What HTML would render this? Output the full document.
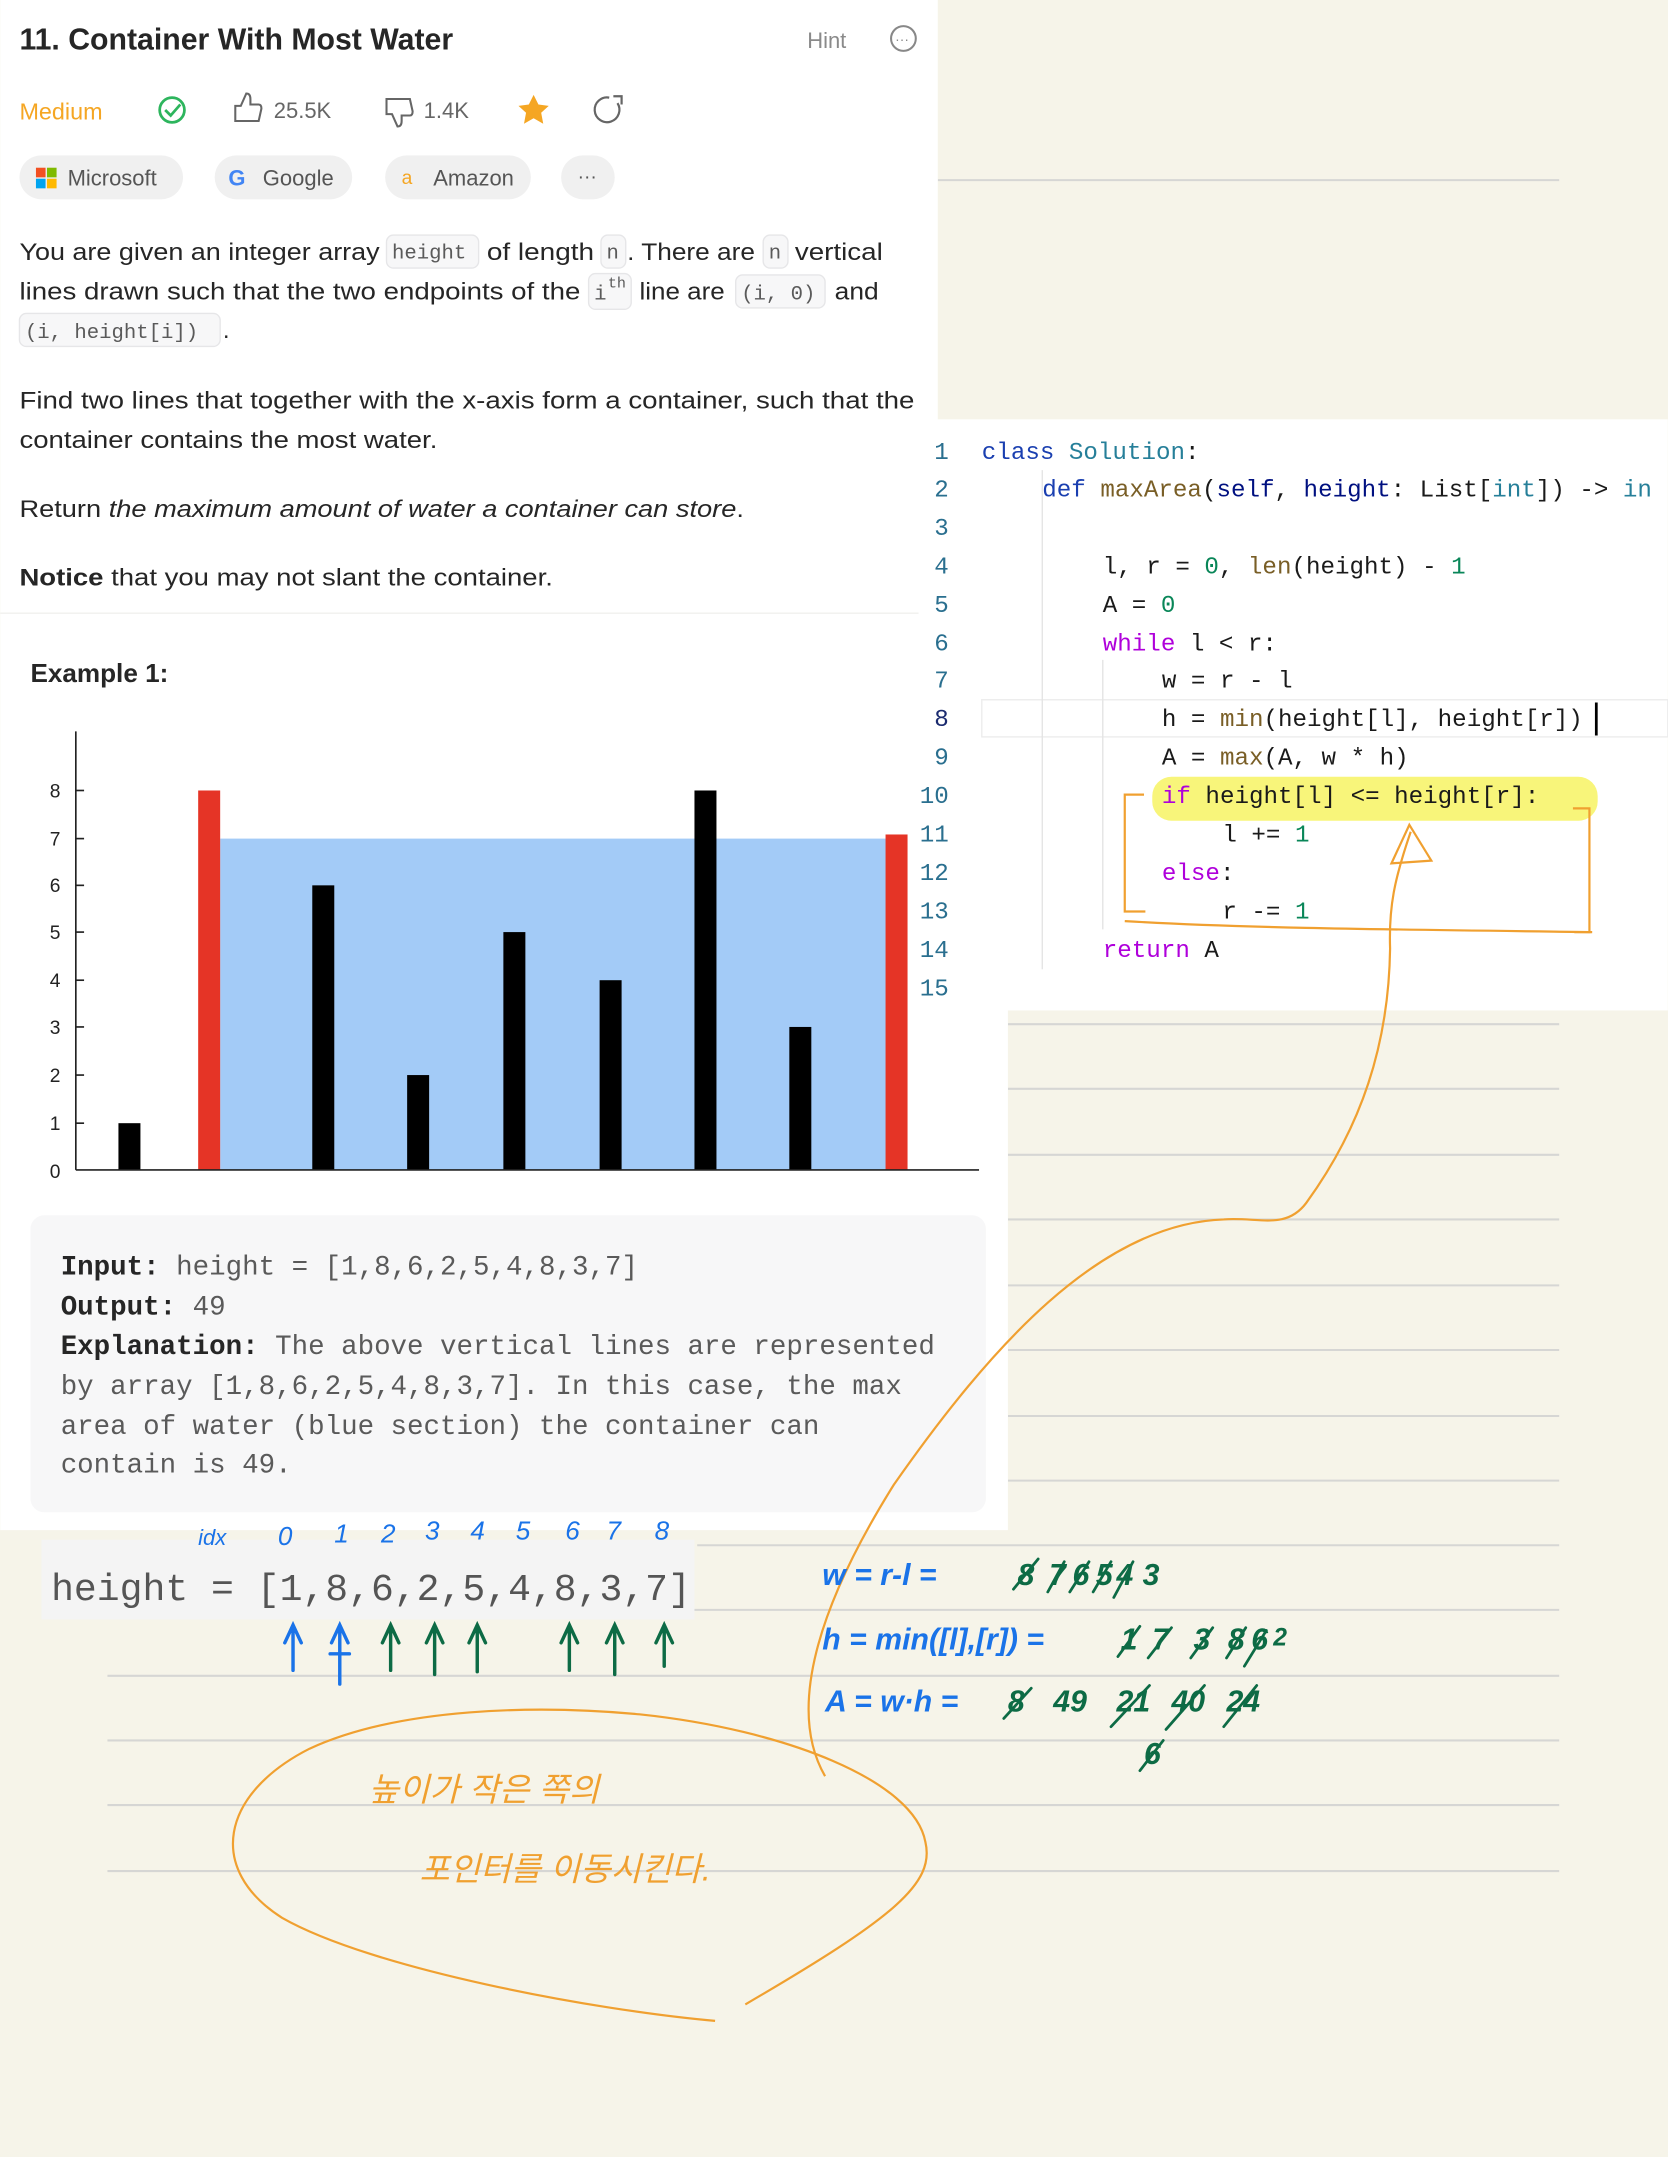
<!DOCTYPE html>
<html><head><meta charset="utf-8"><style>
html,body{margin:0;padding:0;background:#f6f4e9;}
svg{display:block}
.s{font-family:"Liberation Sans",sans-serif}
.m{font-family:"Liberation Mono","DejaVu Sans Mono",monospace}
.hw{font-family:"Liberation Sans","Noto Sans CJK KR",sans-serif;font-style:italic}
</style></head><body>
<svg width="1668" height="2157" viewBox="0 0 1213 1569" xmlns="http://www.w3.org/2000/svg">
<rect width="1213" height="1569" fill="#f6f4e9"/>
<g stroke="#d6d6d4" stroke-width="1.5">
<line x1="682" y1="131" x2="1134" y2="131"/>
<line x1="733" y1="745" x2="1134" y2="745"/>
<line x1="733" y1="792" x2="1134" y2="792"/>
<line x1="733" y1="840" x2="1134" y2="840"/>
<line x1="733" y1="887" x2="1134" y2="887"/>
<line x1="733" y1="935" x2="1134" y2="935"/>
<line x1="733" y1="982" x2="1134" y2="982"/>
<line x1="733" y1="1030" x2="1134" y2="1030"/>
<line x1="733" y1="1077" x2="1134" y2="1077"/>
<line x1="507" y1="1124" x2="1134" y2="1124"/>
<line x1="78" y1="1171" x2="1134" y2="1171"/>
<line x1="78" y1="1219" x2="1134" y2="1219"/>
<line x1="78" y1="1266" x2="1134" y2="1266"/>
<line x1="78" y1="1313" x2="1134" y2="1313"/>
<line x1="78" y1="1361" x2="1134" y2="1361"/>
</g>
<rect x="0" y="0" width="682" height="446" fill="#fff"/>
<rect x="0" y="446" width="733" height="667" fill="#fff"/>
<line x1="0" y1="446" x2="682" y2="446" stroke="#f0f0ee"/>
<rect x="668" y="305" width="545" height="430" fill="#fff"/>

<text x="14" y="36" class="s" font-size="22" font-weight="bold" fill="#262626">11. Container With Most Water</text>
<text x="587" y="35" class="s" font-size="16" fill="#8a8a8a">Hint</text>
<circle cx="657" cy="28" r="9" fill="none" stroke="#888" stroke-width="1.5"/>
<text x="651" y="32" class="s" font-size="10" fill="#888">···</text>
<text x="14" y="87" class="s" font-size="17" fill="#f5a623">Medium</text>
<circle cx="125" cy="80" r="9" fill="none" stroke="#2db55d" stroke-width="2"/>
<path d="M120 80 l4 4 l7 -8" fill="none" stroke="#2db55d" stroke-width="2"/>
<path d="M171 88 v-11 h4 l4 -9 q3 0 3 4 v4 h6 q2 0 2 3 l-2 9 h-17z" fill="none" stroke="#666" stroke-width="1.5"/>
<text x="199" y="86" class="s" font-size="16" fill="#666">25.5K</text>
<path d="M281 72 v11 h4 l4 9 q3 0 3 -4 v-4 h6 q2 0 2 -3 l-2 -9 h-17z" fill="none" stroke="#666" stroke-width="1.5"/>
<text x="308" y="86" class="s" font-size="16" fill="#666">1.4K</text>
<polygon points="388,69 391.5,76 399,77 393.5,82 395,90 388,86 381,90 382.5,82 377,77 384.5,76" fill="#f5a623"/>
<path d="M449 75 a9 9 0 1 1 -6 -4" fill="none" stroke="#666" stroke-width="1.6"/>
<path d="M446 70 h6 v6" fill="none" stroke="#666" stroke-width="1.6"/>
<g fill="#f0f0f0">
<rect x="14" y="113" width="119" height="32" rx="16"/>
<rect x="156" y="113" width="100" height="32" rx="16"/>
<rect x="280" y="113" width="106" height="32" rx="16"/>
<rect x="408" y="113" width="39" height="32" rx="16"/>
</g>
<rect x="26" y="122" width="7" height="7" fill="#f25022"/><rect x="34" y="122" width="7" height="7" fill="#7fba00"/>
<rect x="26" y="130" width="7" height="7" fill="#00a4ef"/><rect x="34" y="130" width="7" height="7" fill="#ffb900"/>
<text x="49" y="135" class="s" font-size="16" fill="#555">Microsoft</text>
<text x="166" y="135" class="s" font-size="16" font-weight="bold" fill="#4285f4">G</text>
<text x="191" y="135" class="s" font-size="16" fill="#555">Google</text>
<text x="292" y="134" class="s" font-size="14" fill="#f5a623">a</text>
<text x="315" y="135" class="s" font-size="16" fill="#555">Amazon</text>
<text x="420" y="133" class="s" font-size="14" fill="#555">···</text>

<g fill="#f7f7f8" stroke="#e6e6e8">
<rect x="281" y="171" width="67" height="24" rx="5"/>
<rect x="437" y="171" width="18" height="24" rx="5"/>
<rect x="555" y="171" width="18" height="24" rx="5"/>
<rect x="428" y="199" width="31" height="26" rx="5"/>
<rect x="535" y="200" width="65" height="24" rx="5"/>
<rect x="14" y="228" width="146" height="24" rx="5"/>
</g>
<g class="s" font-size="17.5" fill="#262626">
<text x="14" y="189" textLength="262" lengthAdjust="spacingAndGlyphs">You are given an integer array</text>
<text x="354" y="189" textLength="78" lengthAdjust="spacingAndGlyphs">of length</text>
<text x="456" y="189" textLength="93" lengthAdjust="spacingAndGlyphs">. There are</text>
<text x="578" y="189" textLength="64" lengthAdjust="spacingAndGlyphs">vertical</text>
<text x="14" y="218" textLength="408" lengthAdjust="spacingAndGlyphs">lines drawn such that the two endpoints of the</text>
<text x="465" y="218" textLength="62" lengthAdjust="spacingAndGlyphs">line are</text>
<text x="607" y="218" textLength="32" lengthAdjust="spacingAndGlyphs">and</text>
<text x="162" y="246">.</text>
<text x="14" y="297" textLength="651" lengthAdjust="spacingAndGlyphs">Find two lines that together with the x-axis form a container, such that the</text>
<text x="14" y="326" textLength="304" lengthAdjust="spacingAndGlyphs">container contains the most water.</text>
<text x="14" y="376" textLength="527" lengthAdjust="spacingAndGlyphs">Return <tspan font-style="italic">the maximum amount of water a container can store</tspan>.</text>
<text x="14" y="426" textLength="388" lengthAdjust="spacingAndGlyphs"><tspan font-weight="bold">Notice</tspan> that you may not slant the container.</text>
</g>
<g class="m" font-size="15" fill="#5a5a5a">
<text x="285" y="188">height</text>
<text x="441" y="188">n</text>
<text x="559" y="188">n</text>
<text x="432" y="218">i</text><text x="442" y="209" font-size="11">th</text>
<text x="539" y="218">(i, 0)</text>
<text x="18" y="246">(i, height[i])</text>
</g>

<text x="22" y="496" class="s" font-size="19" font-weight="bold" fill="#262626">Example 1:</text>
<rect x="160" y="610" width="485" height="241" fill="#a3cbf7"/>
<g fill="#000">
<rect x="86" y="817" width="16" height="34"/>
<rect x="227" y="644" width="16" height="207"/>
<rect x="296" y="782" width="16" height="69"/>
<rect x="366" y="678" width="16" height="173"/>
<rect x="436" y="713" width="16" height="138"/>
<rect x="505" y="575" width="16" height="276"/>
<rect x="574" y="747" width="16" height="104"/>
</g>
<rect x="144" y="575" width="16" height="276" fill="#e53426"/>
<rect x="644" y="607" width="16" height="244" fill="#e53426"/>
<g stroke="#222" stroke-width="1.2">
<line x1="55" y1="532" x2="55" y2="851"/>
<line x1="55" y1="851" x2="712" y2="851"/>
<line x1="55" y1="575" x2="61" y2="575"/><line x1="55" y1="610" x2="61" y2="610"/>
<line x1="55" y1="644" x2="61" y2="644"/><line x1="55" y1="678" x2="61" y2="678"/>
<line x1="55" y1="713" x2="61" y2="713"/><line x1="55" y1="747" x2="61" y2="747"/>
<line x1="55" y1="782" x2="61" y2="782"/><line x1="55" y1="817" x2="61" y2="817"/>
</g>
<g class="s" font-size="14" fill="#222">
<text x="36" y="580">8</text><text x="36" y="615">7</text><text x="36" y="649">6</text>
<text x="36" y="683">5</text><text x="36" y="718">4</text><text x="36" y="752">3</text>
<text x="36" y="787">2</text><text x="36" y="822">1</text><text x="36" y="857">0</text>
</g>
<rect x="22" y="884" width="695" height="216" rx="10" fill="#f7f7f8"/>
<g class="m" font-size="20" fill="#5a5a5a">
<text x="44" y="927"><tspan font-weight="bold" fill="#262626">Input:</tspan> height = [1,8,6,2,5,4,8,3,7]</text>
<text x="44" y="956"><tspan font-weight="bold" fill="#262626">Output:</tspan> 49</text>
<text x="44" y="985"><tspan font-weight="bold" fill="#262626">Explanation:</tspan> The above vertical lines are represented</text>
<text x="44" y="1014">by array [1,8,6,2,5,4,8,3,7]. In this case, the max</text>
<text x="44" y="1043">area of water (blue section) the container can</text>
<text x="44" y="1071">contain is 49.</text>
</g>

<rect x="714" y="509" width="499" height="27" fill="#fff" stroke="#ececec"/>
<g stroke="#e4e4e4"><line x1="758" y1="342" x2="758" y2="705"/><line x1="802" y1="480" x2="802" y2="676"/></g>
<g class="m" font-size="17.6" fill="#2a6f8f" text-anchor="end">
<text x="690" y="334">1</text><text x="690" y="361">2</text><text x="690" y="389">3</text>
<text x="690" y="417">4</text><text x="690" y="445">5</text><text x="690" y="473">6</text>
<text x="690" y="500">7</text><text x="690" y="528" fill="#1b2b6f">8</text><text x="690" y="556">9</text>
<text x="690" y="584">10</text><text x="690" y="612">11</text><text x="690" y="640">12</text>
<text x="690" y="668">13</text><text x="690" y="696">14</text><text x="690" y="724">15</text>
</g>
<rect x="838" y="565" width="324" height="32" rx="14" fill="#f8f57a"/>
<g class="m" font-size="17.6" fill="#1a1a1a">
<text x="714" y="334"><tspan fill="#1a3fb0">class</tspan> <tspan fill="#267f99">Solution</tspan>:</text>
<text x="758" y="361"><tspan fill="#1a3fb0">def</tspan> <tspan fill="#795e26">maxArea</tspan>(<tspan fill="#001080">self</tspan>, <tspan fill="#001080">height</tspan>: List[<tspan fill="#267f99">int</tspan>]) -&gt; <tspan fill="#267f99">in</tspan></text>
<text x="802" y="417">l, r = <tspan fill="#098658">0</tspan>, <tspan fill="#795e26">len</tspan>(height) - <tspan fill="#098658">1</tspan></text>
<text x="802" y="445">A = <tspan fill="#098658">0</tspan></text>
<text x="802" y="473"><tspan fill="#af00db">while</tspan> l &lt; r:</text>
<text x="845" y="500">w = r - l</text>
<text x="845" y="528">h = <tspan fill="#795e26">min</tspan>(height[l], height[r])</text>
<text x="845" y="556">A = <tspan fill="#795e26">max</tspan>(A, w * h)</text>
<text x="845" y="584"><tspan fill="#af00db">if</tspan> height[l] &lt;= height[r]:</text>
<text x="889" y="612">l += <tspan fill="#098658">1</tspan></text>
<text x="845" y="640"><tspan fill="#af00db">else</tspan>:</text>
<text x="889" y="668">r -= <tspan fill="#098658">1</tspan></text>
<text x="802" y="696"><tspan fill="#af00db">return</tspan> A</text>
</g>
<line x1="1161" y1="511" x2="1161" y2="535" stroke="#000" stroke-width="2"/>

<g fill="none" stroke="#f0a030" stroke-width="1.6">
<path d="M832 578 H818 V663 H833"/>
<path d="M1144 588 H1156 V678 H1145"/>
<path d="M818 670 C900 675 1000 676 1158 678"/>
<path d="M1012 628 L1025 600 L1041 626 Z"/>
<path d="M1026 605 C1014 640 1010 660 1011 690 C1010 760 990 820 950 875 C935 895 915 885 890 887 C800 890 720 980 650 1080 C600 1160 570 1240 600 1292"/>
<path d="M520 1470 C430 1462 270 1432 205 1395 C150 1360 160 1305 225 1272 C290 1242 390 1240 465 1247 C570 1258 665 1295 673 1340 C680 1370 650 1395 542 1458"/>
</g>
<g class="hw" font-size="24" fill="#f0a030">
<text x="268" y="1310">높이가 작은 쪽의</text>
<text x="305" y="1368">포인터를 이동시킨다.</text>
</g>

<rect x="30" y="1120" width="475" height="58" fill="#f4f4f4"/>
<text x="37" y="1164" class="m" font-size="27.7" fill="#555">height = [1,8,6,2,5,4,8,3,7]</text>
<g class="hw" font-size="19" fill="#1a73e8">
<text x="144" y="1124" font-size="16">idx</text>
<text x="202" y="1124">0</text><text x="243" y="1122">1</text><text x="277" y="1122">2</text>
<text x="309" y="1120">3</text><text x="342" y="1120">4</text><text x="375" y="1120">5</text>
<text x="411" y="1120">6</text><text x="441" y="1120">7</text><text x="476" y="1120">8</text>
</g>
<g fill="none" stroke-width="2.5" stroke-linecap="round">
<g stroke="#1a73e8"><path d="M213 1215 V1183 M207 1195 L213 1182 L219 1195"/><path d="M247 1225 V1183 M241 1195 L247 1182 L253 1195 M240 1203 H254"/></g>
<g stroke="#0d6b45">
<path d="M284 1215 V1183 M278 1195 L284 1182 L290 1195"/>
<path d="M316 1218 V1183 M310 1195 L316 1182 L322 1195"/>
<path d="M347 1216 V1183 M341 1195 L347 1182 L353 1195"/>
<path d="M414 1215 V1183 M408 1195 L414 1182 L420 1195"/>
<path d="M447 1218 V1183 M441 1195 L447 1182 L453 1195"/>
<path d="M483 1212 V1183 M477 1195 L483 1182 L489 1195"/>
</g></g>
<g class="hw" font-size="22" font-weight="bold">
<text x="598" y="1153" fill="#1a73e8">w = r-l =</text>
<text x="598" y="1200" fill="#1a73e8">h = min([l],[r]) =</text>
<text x="600" y="1245" fill="#1a73e8">A = w·h =</text>
<g fill="#0d6b45">
<text x="740" y="1153">8</text><text x="763" y="1153">7</text><text x="780" y="1153">6</text><text x="797" y="1153">5</text><text x="812" y="1153">4</text><text x="831" y="1153">3</text>
<text x="815" y="1200">1</text><text x="838" y="1200">7</text><text x="868" y="1200">3</text><text x="893" y="1200">8</text><text x="910" y="1200">6</text><text x="926" y="1197" font-size="18">2</text>
<text x="733" y="1245">8</text><text x="766" y="1245">49</text><text x="812" y="1245">21</text><text x="852" y="1245">40</text><text x="892" y="1245">24</text>
<text x="832" y="1283">6</text>
</g>
</g>
<g stroke="#0d6b45" stroke-width="2" stroke-linecap="round">
<line x1="737" y1="1156" x2="755" y2="1134"/><line x1="762" y1="1158" x2="774" y2="1136"/>
<line x1="778" y1="1158" x2="792" y2="1136"/><line x1="795" y1="1158" x2="808" y2="1136"/><line x1="810" y1="1162" x2="824" y2="1136"/>
<line x1="813" y1="1205" x2="829" y2="1183"/><line x1="835" y1="1206" x2="852" y2="1184"/>
<line x1="866" y1="1206" x2="882" y2="1184"/><line x1="892" y1="1206" x2="906" y2="1184"/><line x1="905" y1="1212" x2="921" y2="1186"/>
<line x1="730" y1="1250" x2="750" y2="1228"/><line x1="808" y1="1256" x2="836" y2="1226"/>
<line x1="848" y1="1258" x2="876" y2="1226"/><line x1="890" y1="1256" x2="914" y2="1226"/>
<line x1="829" y1="1288" x2="846" y2="1266"/>
</g>
</svg>
</body></html>
